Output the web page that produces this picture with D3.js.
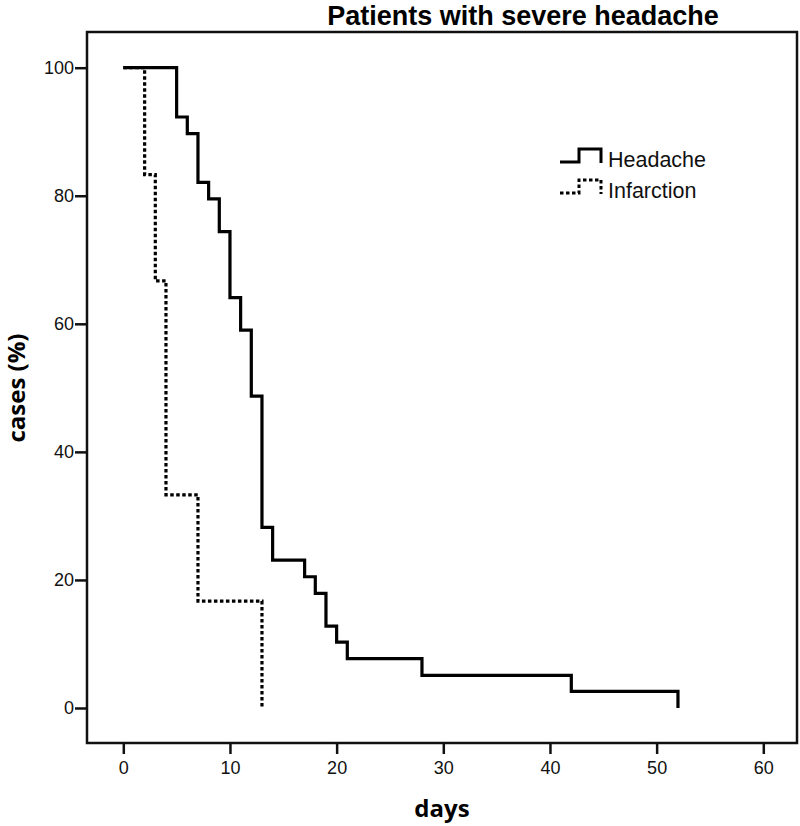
<!DOCTYPE html>
<html>
<head>
<meta charset="utf-8">
<script src="https://cdn.jsdelivr.net/npm/d3@7"></script>
<style>
  body { margin: 0; background: #fff; }
  .tick text { font-family: "Liberation Sans", Arial, sans-serif; font-size: 18px; fill: #111; }
  .tick line { stroke: #111; stroke-width: 2.5px; }
</style>
</head>
<body>
<div class="chart"></div>
<script>
// data (Kaplan-Meier style steps)
var headacheDays = [0, 5, 6, 7, 8, 9, 10, 11, 12, 13, 14, 17, 18, 19, 20, 21, 28, 42, 52];
var headacheCases = [100, 92.3, 89.7, 82.1, 79.5, 74.4, 64.1, 59.0, 48.7, 28.2, 23.1, 20.5, 17.9, 12.8, 10.3, 7.7, 5.1, 2.6, 0];
var infarctionDays = [0, 2, 3, 4, 7, 13];
var infarctionCases = [100, 83.3, 66.7, 33.3, 16.7, 0];
var xTicks = [0, 10, 20, 30, 40, 50, 60];
var yTicks = [0, 20, 40, 60, 80, 100];
var seriesNames = ["Headache", "Infarction"];

var svgWidth = 800;
var svgHeight = 826;

// frame box of the plot
var frame = { left: 87, top: 32, right: 797, bottom: 743 };

var svg = d3.select(".chart")
  .append("svg")
  .attr("width", svgWidth)
  .attr("height", svgHeight);

var xScale = d3.scaleLinear().domain([0, 60]).range([123.3, 763.3]);
var yScale = d3.scaleLinear().domain([0, 100]).range([708, 67.7]);

// frame
svg.append("rect")
  .attr("x", frame.left)
  .attr("y", frame.top)
  .attr("width", frame.right - frame.left)
  .attr("height", frame.bottom - frame.top)
  .attr("fill", "none")
  .attr("stroke", "#111")
  .attr("stroke-width", 2.5);

// axes
var leftAxis = d3.axisLeft(yScale).tickValues(yTicks).tickSize(12).tickPadding(1).tickSizeOuter(0);
var bottomAxis = d3.axisBottom(xScale).tickValues(xTicks).tickSize(11).tickPadding(7).tickSizeOuter(0);

svg.append("g")
  .attr("transform", "translate(" + frame.left + ",0)")
  .call(leftAxis)
  .call(function(g) { g.select(".domain").remove(); });

svg.append("g")
  .attr("transform", "translate(0," + frame.bottom + ")")
  .call(bottomAxis)
  .call(function(g) { g.select(".domain").remove(); });

// step lines
var line = d3.line()
  .x(function(d) { return xScale(d[0]); })
  .y(function(d) { return yScale(d[1]); })
  .curve(d3.curveStepAfter);

var headache = d3.zip(headacheDays, headacheCases);
var infarction = d3.zip(infarctionDays, infarctionCases);

svg.append("path")
  .datum(infarction)
  .attr("d", line)
  .attr("fill", "none")
  .attr("stroke", "#000")
  .attr("stroke-width", 3.2)
  .attr("stroke-dasharray", "3.5,2.5");

svg.append("path")
  .datum(headache)
  .attr("d", line)
  .attr("fill", "none")
  .attr("stroke", "#000")
  .attr("stroke-width", 3.2);

// legend
var legend = svg.append("g").attr("transform", "translate(560,0)");
var legendRows = [
  { name: seriesNames[0], y: 162, dash: null },
  { name: seriesNames[1], y: 193, dash: "3.5,2.5" }
];
legendRows.forEach(function(r) {
  legend.append("path")
    .attr("d", "M0," + r.y + "H19V" + (r.y - 13) + "H41V" + (r.y + 1))
    .attr("fill", "none")
    .attr("stroke", "#000")
    .attr("stroke-width", 3)
    .attr("stroke-dasharray", r.dash);
  legend.append("text")
    .attr("x", 48)
    .attr("y", r.y + 5)
    .style("font-family", "Liberation Sans, Arial, sans-serif")
    .style("font-size", "21.5px")
    .attr("fill", "#111")
    .text(r.name);
});

// title
svg.append("text")
  .attr("x", 523)
  .attr("y", 25)
  .attr("text-anchor", "middle")
  .style("font-family", "Liberation Sans, Arial, sans-serif")
  .style("font-weight", "bold")
  .style("font-size", "27px")
  .attr("fill", "#000")
  .text("Patients with severe headache");

// axis labels
svg.append("text")
  .attr("transform", "translate(25,388) rotate(-90)")
  .attr("text-anchor", "middle")
  .style("font-family", "Open Sans, sans-serif")
  .style("font-weight", "bold")
  .style("font-size", "24px")
  .attr("fill", "#000")
  .text("cases (%)");

svg.append("text")
  .attr("x", 442)
  .attr("y", 817)
  .attr("text-anchor", "middle")
  .style("font-family", "Open Sans, sans-serif")
  .style("font-weight", "bold")
  .style("font-size", "24px")
  .attr("fill", "#000")
  .text("days");
</script>
</body>
</html>
